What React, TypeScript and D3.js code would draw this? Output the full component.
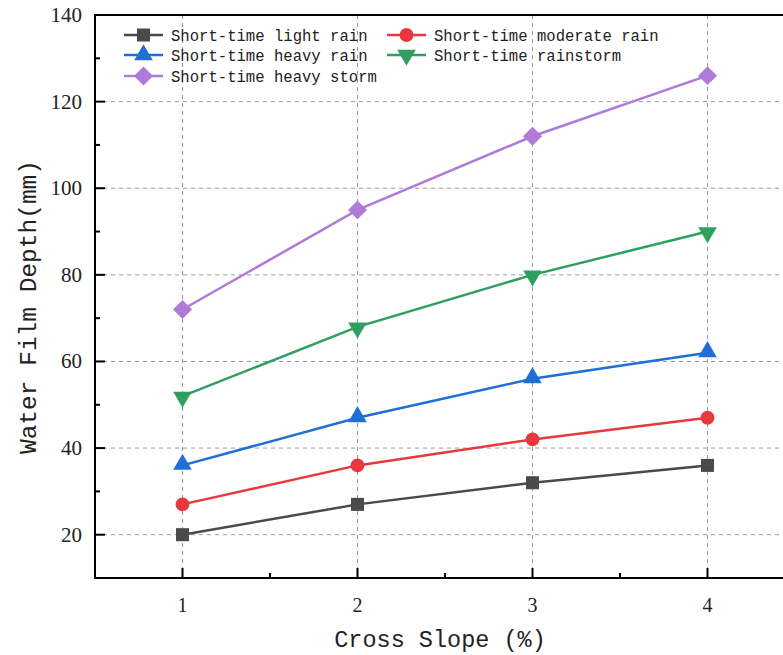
import React, { useEffect } from "react";
import * as d3 from "d3";

const slopes = [1, 2, 3, 4];
const seriesNames = [
  "Short-time light rain",
  "Short-time moderate rain",
  "Short-time heavy rain",
  "Short-time rainstorm",
  "Short-time heavy storm",
];
const lightRain = [20, 27, 32, 36];
const moderateRain = [27, 36, 42, 47];
const heavyRain = [36, 47, 56, 62];
const rainstorm = [52, 68, 80, 90];
const heavyStorm = [72, 95, 112, 126];
const yTicks = [20, 40, 60, 80, 100, 120, 140];
const yMinorTicks = [30, 50, 70, 90, 110, 130];
const xMinorTicks = [1.5, 2.5, 3.5];

const colors = ["#4a4a4a", "#e8383d", "#1f6fd6", "#2e9f5e", "#b07ad8"];
const symbols = [d3.symbolSquare, d3.symbolCircle, d3.symbolTriangle, d3.symbolTriangle, d3.symbolSquare];
const symSizes = [170, 150, 150, 150, 180];
const symRot = [0, 0, 0, 180, 45];

const W = 783, H = 655;
const L = 95, T = 15, B = 578;

export default function App() {
  useEffect(() => {
    document.body.style.margin = "0";
  }, []);
  const x = d3.scaleLinear().domain([0.5, 4.5]).range([L, 795]);
  const y = d3.scaleLinear().domain([10, 140]).range([B, T]);
  const data = [lightRain, moderateRain, heavyRain, rainstorm, heavyStorm];
  const line = d3.line<number>().x((_, i) => x(slopes[i])).y((d) => y(d));
  const mono = "Liberation Mono";
  const serif = "Liberation Serif";
  const legendPos = [
    [124, 35], [387, 35], [124, 55], [387, 55], [124, 76],
  ];
  const markerPath = (i: number) => d3.symbol().type(symbols[i]).size(symSizes[i])() as string;
  return (
    <svg width={W} height={H} style={{ display: "block", background: "#fff" }}>
      {slopes.map((s) => (
        <line key={"gx" + s} x1={x(s)} x2={x(s)} y1={T} y2={B} stroke="#999" strokeDasharray="4,4" strokeWidth={1} />
      ))}
      {yTicks.filter((t) => t < 140).map((t) => (
        <line key={"gy" + t} x1={L} x2={W} y1={y(t)} y2={y(t)} stroke="#999" strokeDasharray="4,4" strokeWidth={1} />
      ))}
      {data.map((vals, i) => (
        <g key={"s" + i}>
          <path d={line(vals) as string} fill="none" stroke={colors[i]} strokeWidth={2.5} />
          {vals.map((v, j) => (
            <path key={j} d={markerPath(i)} transform={`translate(${x(slopes[j])},${y(v) + (i === 3 ? 1 : i === 2 ? -1 : 0)}) rotate(${symRot[i]})`} fill={colors[i]} />
          ))}
        </g>
      ))}
      <line x1={L} x2={W} y1={T} y2={T} stroke="#000" strokeWidth={2} />
      <line x1={L} x2={W} y1={B} y2={B} stroke="#000" strokeWidth={2} />
      <line x1={L} x2={L} y1={T - 1} y2={B + 1} stroke="#000" strokeWidth={2} />
      {slopes.map((s) => (
        <g key={"xt" + s}>
          <line x1={x(s)} x2={x(s)} y1={B} y2={B - 10} stroke="#000" strokeWidth={2} />
          <text x={x(s)} y={612} textAnchor="middle" fontFamily={serif} fontSize={20} fill="#222">{s}</text>
        </g>
      ))}
      {xMinorTicks.map((s) => (
        <line key={"xm" + s} x1={x(s)} x2={x(s)} y1={B} y2={B - 5} stroke="#000" strokeWidth={2} />
      ))}
      {yTicks.map((t) => (
        <g key={"yt" + t}>
          <line x1={L} x2={L + 10} y1={y(t)} y2={y(t)} stroke="#000" strokeWidth={2} />
          <text x={82} y={y(t) + 7} textAnchor="end" fontFamily={serif} fontSize={21} fill="#222">{t}</text>
        </g>
      ))}
      {yMinorTicks.map((t) => (
        <line key={"ym" + t} x1={L} x2={L + 5} y1={y(t)} y2={y(t)} stroke="#000" strokeWidth={2} />
      ))}
      <text x={440} y={647} textAnchor="middle" fontFamily={mono} fontSize={23.5} fill="#222">Cross Slope (%)</text>
      <text transform="translate(36,307) rotate(-90)" textAnchor="middle" fontFamily={mono} fontSize={24.5} fill="#222">Water Film Depth(mm)</text>
      {seriesNames.map((n, i) => {
        const [lx, ly] = legendPos[i];
        return (
          <g key={"lg" + i}>
            <line x1={lx} x2={lx + 39} y1={ly} y2={ly} stroke={colors[i]} strokeWidth={2.5} />
            <path d={markerPath(i)} transform={`translate(${lx + 19.5},${ly}) rotate(${symRot[i]})`} fill={colors[i]} />
            <text x={lx + 47} y={ly + 5.5} fontFamily={mono} fontSize={15.6} fill="#222">{n}</text>
          </g>
        );
      })}
    </svg>
  );
}
